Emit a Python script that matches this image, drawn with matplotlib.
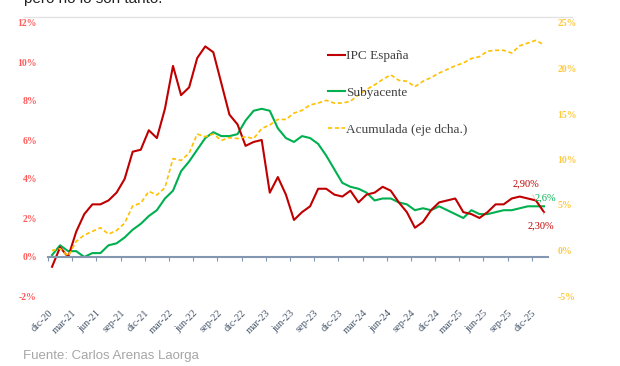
import matplotlib
matplotlib.use("Agg")
import matplotlib.pyplot as plt
from matplotlib.lines import Line2D
import numpy as np

# monthly data, dic-20 .. ene-26
meses = ['ene', 'feb', 'mar', 'abr', 'may', 'jun', 'jul', 'ago', 'sep', 'oct', 'nov', 'dic']
fechas = ['dic-20'] + [f"{meses[m]}-{a}" for a in range(21, 26) for m in range(12)] + ['ene-26']

ipc = [-0.5, 0.5, 0.0, 1.3, 2.2, 2.7, 2.7, 2.9, 3.3, 4.0, 5.4, 5.5, 6.5,
       6.1, 7.6, 9.8, 8.3, 8.7, 10.2, 10.8, 10.5, 8.9, 7.3, 6.8, 5.7,
       5.9, 6.0, 3.3, 4.1, 3.2, 1.9, 2.3, 2.6, 3.5, 3.5, 3.2, 3.1,
       3.4, 2.8, 3.2, 3.3, 3.6, 3.4, 2.8, 2.3, 1.5, 1.8, 2.4, 2.8,
       2.9, 3.0, 2.3, 2.2, 2.0, 2.3, 2.7, 2.7, 3.0, 3.1, 3.0, 2.9, 2.3]

subyacente = [0.1, 0.6, 0.3, 0.3, 0.0, 0.2, 0.2, 0.6, 0.7, 1.0, 1.4, 1.7, 2.1,
              2.4, 3.0, 3.4, 4.4, 4.9, 5.5, 6.1, 6.4, 6.2, 6.2, 6.3, 7.0,
              7.5, 7.6, 7.5, 6.6, 6.1, 5.9, 6.2, 6.1, 5.8, 5.2, 4.5, 3.8,
              3.6, 3.5, 3.3, 2.9, 3.0, 3.0, 2.8, 2.7, 2.4, 2.5, 2.4, 2.6,
              2.4, 2.2, 2.0, 2.4, 2.2, 2.2, 2.3, 2.4, 2.4, 2.5, 2.6, 2.6, 2.6]

acumulada = [0.0, 0.2, -0.6, 1.0, 1.7, 2.1, 2.5, 1.8, 2.2, 3.0, 4.9, 5.2, 6.5,
             6.1, 6.9, 10.1, 9.9, 10.7, 12.8, 12.5, 12.8, 12.1, 12.4, 12.3, 12.5,
             12.3, 13.4, 13.8, 14.4, 14.4, 15.1, 15.4, 16.0, 16.2, 16.5, 16.2, 16.2,
             16.4, 17.1, 17.7, 18.2, 18.8, 19.3, 18.7, 18.6, 18.0, 18.6, 19.0, 19.5,
             19.9, 20.3, 20.6, 21.1, 21.3, 21.9, 22.0, 22.0, 21.7, 22.5, 22.8, 23.1, 22.6]

izq_ticks = [-2, 0, 2, 4, 6, 8, 10, 12]
der_ticks = [-5, 0, 5, 10, 15, 20, 25]

ROJO = '#C00000'
VERDE = '#00B050'
AMARILLO = '#FFC000'
SERIF = 'Liberation Serif'

x = np.arange(len(fechas))

fig = plt.figure(figsize=(6.2, 3.66), dpi=100)
ax = fig.add_axes([48 / 620, 1 - 296 / 366, 500 / 620, 273 / 366])
ax2 = ax.twinx()

l_sub, = ax.plot(x, subyacente, color=VERDE, lw=1.5, label='Subyacente')
l_ipc, = ax.plot(x, ipc, color=ROJO, lw=1.5, label='IPC España')
l_acu, = ax2.plot(x, acumulada, color=AMARILLO, lw=1.2, ls=(0, (2.5, 1.6)),
                  label='Acumulada (eje dcha.)')

ax.set_xlim(-0.5, len(fechas) - 0.5)
ax.set_ylim(-2, 12)
ax2.set_ylim(-5, 25)

for a in (ax, ax2):
    for s in ('top', 'left', 'right'):
        a.spines[s].set_visible(False)
ax2.spines['bottom'].set_visible(False)

# horizontal axis on the zero line, labels below the plot
ax.spines['bottom'].set_position(('data', 0))
ax.spines['bottom'].set_color('#8497B0')
ax.spines['bottom'].set_linewidth(1.5)
ax.set_xticks(x[::3] - 0.5)
ax.set_xticklabels(fechas[::3], rotation=45, ha='right', va='top',
                   rotation_mode='anchor', fontsize=7.5, family=SERIF, color='#44546A')
ax.tick_params(axis='x', length=3, width=0.8, color='#8497B0', pad=34)

ax.set_yticks(izq_ticks)
ax.set_yticklabels([f"{v}%" for v in izq_ticks], fontsize=7, family=SERIF,
                   color='#FF5B5B', fontweight='bold')
ax.tick_params(axis='y', length=0, pad=8)

ax2.set_yticks(der_ticks)
ax2.set_yticklabels([f"{v}%" for v in der_ticks], fontsize=7, family=SERIF,
                    color='#FFC93C', fontweight='bold')
ax2.tick_params(axis='y', length=0, pad=7)

# legend
leg = fig.legend(handles=[l_ipc, l_sub, l_acu], loc='upper left',
                 bbox_to_anchor=(328 / 620, 1 - 50 / 366), frameon=False,
                 prop={'family': SERIF, 'size': 9.5}, labelcolor='#404040',
                 handlelength=1.3, handletextpad=0.1, labelspacing=1.85,
                 borderpad=0, borderaxespad=0)

# end labels
ax.annotate(f"{ipc[-2]:.2f}%".replace('.', ','), xy=(x[-2], ipc[-2]),
            xytext=(-7, 12), textcoords='offset points', ha='center', va='center',
            fontsize=7.5, family=SERIF, color=ROJO,
            arrowprops=dict(arrowstyle='-', color='#F4B0B0', lw=0.5, shrinkA=3, shrinkB=0))
ax.annotate(f"{ipc[-1]:.2f}%".replace('.', ','), xy=(x[-1], ipc[-1]),
            xytext=(-2, -10), textcoords='offset points', ha='center', va='center',
            fontsize=7.5, family=SERIF, color=ROJO,
            arrowprops=dict(arrowstyle='-', color='#F4B0B0', lw=0.5, shrinkA=3, shrinkB=0))
ax.annotate(f"{subyacente[-1]:.1f}%".replace('.', ','), xy=(x[-1], subyacente[-1]),
            xytext=(1, 6), textcoords='offset points', ha='center', va='center',
            fontsize=7.5, family=SERIF, color=VERDE)

# header remnant (cut by the top edge as in the source), rule line and source
fig.text(24 / 620, 1 - 3.5 / 366, 'pero no lo son tanto.', fontsize=11,
         family='Liberation Sans', color='#222222', va='baseline', ha='left')
fig.add_artist(Line2D([24 / 620, 572 / 620], [1 - 17 / 366, 1 - 17 / 366],
                      color='#E3E3E3', lw=1))
fig.text(23 / 620, 1 - 356 / 366, 'Fuente: Carlos Arenas Laorga', fontsize=9.5,
         family='Liberation Sans', color='#A6A6A6', va='center', ha='left')

fig.savefig('out.png', dpi=100)
plt.close(fig)
